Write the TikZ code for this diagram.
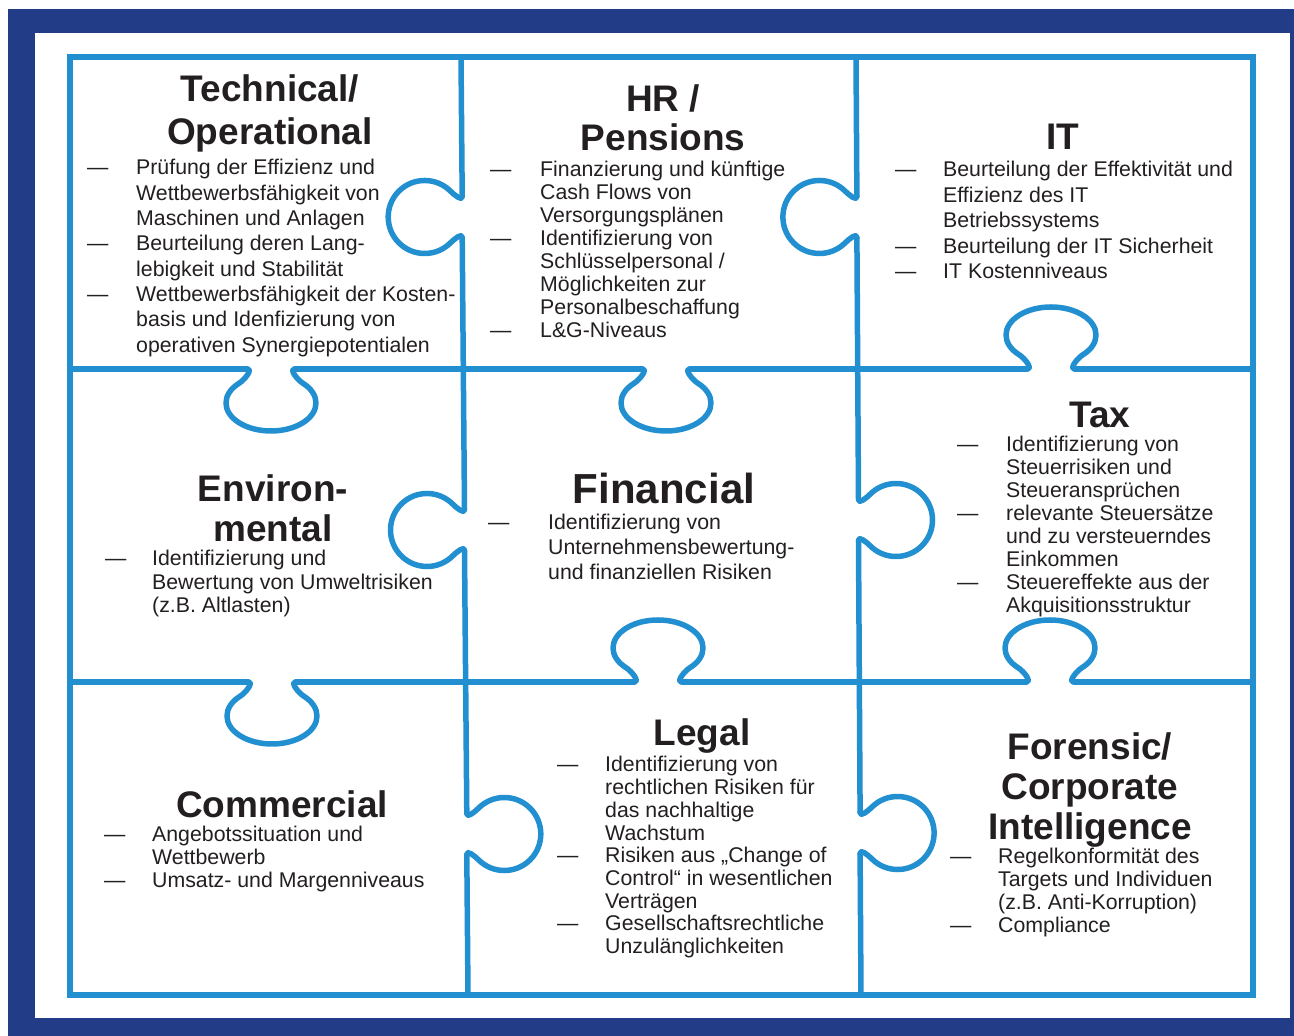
\documentclass[tikz,border=0pt]{standalone}
\usepackage{fontspec}
\setmainfont{Liberation Sans}
\usetikzlibrary{positioning}
\definecolor{framec}{HTML}{223C87}
\definecolor{puzc}{HTML}{2290D0}
\definecolor{textc}{HTML}{231F20}

% centred heading lines and dash lists
\newcommand{\topic}[1]{\begin{tabular}[t]{@{}c@{}}#1\end{tabular}}
\newcommand{\pts}[2]{\begin{tabular}[t]{@{}p{#1}@{}l@{}}#2\end{tabular}}

\begin{document}
\begin{tikzpicture}[x=1pt,y=1pt,
    puzzle/.style={draw=puzc,line width=5.5pt,line cap=round,line join=round},
    headline/.style={anchor=base,inner sep=0pt,text=textc,font=\fontsize{37}{#1}\selectfont\bfseries},
    bullets/.style={anchor=base west,inner sep=0pt,text=textc,font=\fontsize{21.3}{#1}\selectfont},
    tabh/.pic={\draw[puzzle] (-24,0) coordinate (-a) to[out=0,in=-32] (-31.8,14.2)
        arc[start angle=225,end angle=-45,x radius=45,y radius=28]
        to[out=-148,in=180] (24,0) coordinate (-b);},
    tabv/.pic={\draw[puzzle] (-20.5,0) coordinate (-a) to[out=0,in=-45] (-25.8,11.7)
        arc[start angle=225,end angle=-45,radius=36.5]
        to[out=-135,in=180] (20.5,0) coordinate (-b);}]
  \useasboundingbox (0,0) rectangle (1294,1036);
  \fill[framec] (8,0) rectangle (1294,1027);
  \fill[white] (35,18) rectangle (1290,1003);

  % puzzle pieces
  \draw[puzzle,line join=miter] (70,41) rectangle (1253,979);
  \pic[rotate=90] (v1a) at (462.2,819) {tabv};
  \pic[rotate=90] (v1b) at (464.5,506) {tabv};
  \pic[rotate=-90] (v1c) at (466.8,202) {tabv};
  \pic[rotate=90] (v2a) at (856.9,819) {tabv};
  \pic[rotate=-90] (v2b) at (858.5,516) {tabv};
  \pic[rotate=-90] (v2c) at (860.1,203) {tabv};
  \pic[rotate=180] (h1a) at (271,667) {tabh};
  \pic[rotate=180] (h1b) at (666,667) {tabh};
  \pic (h1c) at (1051,667) {tabh};
  \pic[rotate=180] (h2a) at (272,354) {tabh};
  \pic (h2b) at (658,354) {tabh};
  \pic (h2c) at (1050,354) {tabh};
  \draw[puzzle] (461,979) -- (v1a-b) (v1a-a) -- (v1b-b) (v1b-a) -- (v1c-a) (v1c-b) -- (468,41);
  \draw[puzzle] (856,979) -- (v2a-b) (v2a-a) -- (v2b-a) (v2b-b) -- (v2c-a) (v2c-b) -- (861,41);
  \draw[puzzle] (70,667) -- (h1a-b) (h1a-a) -- (h1b-b) (h1b-a) -- (h1c-a) (h1c-b) -- (1253,667);
  \draw[puzzle] (70,354) -- (h2a-b) (h2a-a) -- (h2b-a) (h2b-b) -- (h2c-a) (h2c-b) -- (1253,354);

  % top row
  \node[headline=43] (techhead) at (270,934) {\topic{Technical/\\Operational}};
  \node[bullets=25.3] (techlist) at (87,861) {\pts{49pt}{— & Prüfung der Effizienz und\\
    & Wettbewerbsfähigkeit von\\ & Maschinen und Anlagen\\
    — & Beurteilung deren Lang-\\ & lebigkeit und Stabilität\\
    — & Wettbewerbsfähigkeit der Kosten-\\ & basis und Idenfizierung von\\
    & operativen Synergiepotentialen}};
  \node[headline=38] (hrhead) at (663,924) {\topic{HR /\\Pensions}};
  \node[bullets=23] (hrlist) at (490,859) {\pts{50pt}{— & Finanzierung und künftige\\
    & Cash Flows von\\ & Versorgungsplänen\\
    — & Identifizierung von\\ & Schlüsselpersonal /\\ & Möglichkeiten zur\\
    & Personalbeschaffung\\
    — & L\&G-Niveaus}};
  \node[headline=38] (ithead) at (1063,886) {\topic{IT}};
  \node[bullets=25.5] (itlist) at (895,859) {\pts{48pt}{— & Beurteilung der Effektivität und\\
    & Effizienz des IT\\ & Betriebssystems\\
    — & Beurteilung der IT Sicherheit\\
    — & IT Kostenniveaus}};

  % middle row
  \node[headline=40] (envhead) at (273,534) {\topic{Environ-\\mental}};
  \node[bullets=23.5] (envlist) at (105,470) {\pts{47pt}{— & Identifizierung und\\
    & Bewertung von Umweltrisiken\\ & (z.B. Altlasten)}};
  \node[headline=40,font=\fontsize{42}{48}\selectfont\bfseries] (finhead) at (664,532) {\topic{Financial}};
  \node[bullets=25] (finlist) at (488,506) {\pts{60pt}{— & Identifizierung von\\
    & Unternehmensbewertung-\\ & und finanziellen Risiken}};
  \node[headline=38] (taxhead) at (1100,608) {\topic{Tax}};
  \node[bullets=23] (taxlist) at (957,584) {\pts{49pt}{— & Identifizierung von\\
    & Steuerrisiken und\\ & Steueransprüchen\\
    — & relevante Steuersätze\\ & und zu versteuerndes\\ & Einkommen\\
    — & Steuereffekte aus der\\ & Akquisitionsstruktur}};

  % bottom row
  \node[headline=38] (comhead) at (282,218) {\topic{Commercial}};
  \node[bullets=23] (comlist) at (104,194) {\pts{48pt}{— & Angebotssituation und\\
    & Wettbewerb\\
    — & Umsatz- und Margenniveaus}};
  \node[headline=38] (leghead) at (702,290) {\topic{Legal}};
  \node[bullets=22.7] (leglist) at (557,264) {\pts{48pt}{— & Identifizierung von\\
    & rechtlichen Risiken für\\ & das nachhaltige\\ & Wachstum\\
    — & Risiken aus „Change of\\ & Control“ in wesentlichen\\ & Verträgen\\
    — & Gesellschaftsrechtliche\\ & Unzulänglichkeiten}};
  \node[headline=40] (forhead) at (1090,276) {\topic{Forensic/\\Corporate\\Intelligence}};
  \node[bullets=23] (forlist) at (950,172) {\pts{48pt}{— & Regelkonformität des\\
    & Targets und Individuen\\ & (z.B. Anti-Korruption)\\
    — & Compliance}};
\end{tikzpicture}
\end{document}
